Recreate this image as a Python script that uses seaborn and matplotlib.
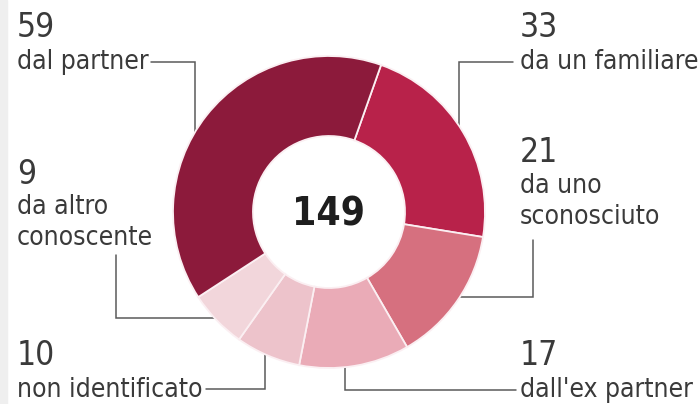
#!/usr/bin/env python3
"""
Donut chart: 149 femminicidi per autore
"""

import matplotlib
matplotlib.use('Agg')
import matplotlib.pyplot as plt
import seaborn as sns

# Data (clockwise from the top, starting with "da un familiare")
categories = ['da un familiare', 'da uno\nsconosciuto', "dall'ex partner",
              'non identificato', 'da altro\nconoscente', 'dal partner']
values = [33, 21, 17, 10, 9, 59]
colors = ['#B8224A', '#D6707F', '#EAABB7', '#EDC3CB', '#F2D6DB', '#8C1A3B']
total = sum(values)

sns.set_theme(style="white")
plt.rcParams['font.family'] = ['DejaVu Sans']
plt.rcParams['font.stretch'] = 'condensed'

W, H = 699, 404
fig = plt.figure(figsize=(W / 100, H / 100), dpi=100)
ax = fig.add_axes([0, 0, 1, 1])

def Y(y):
    # image rows -> data coordinates
    return H - y

TXT = '#3a3a3a'
LINE = '#5a5a5a'

# Leader lines (drawn under the ring)
leaders = {
    'dal partner': [(151, 62), (195, 62), (195, 145)],
    'da un familiare': [(513, 62), (459, 62), (459, 140)],
    'da uno\nsconosciuto': [(533, 240), (533, 297), (445, 297)],
    "dall'ex partner": [(516, 390), (345, 390), (345, 350)],
    'non identificato': [(206, 389), (265, 389), (265, 340)],
    'da altro\nconoscente': [(116, 255), (116, 318), (230, 318)],
}
for pts in leaders.values():
    ax.plot([p[0] for p in pts], [Y(p[1]) for p in pts], color=LINE, lw=1.1,
            zorder=0.5, solid_joinstyle='miter')

cx, cy, r_out, r_in = 329, 212, 156, 76
wedges, _ = ax.pie(values, colors=colors, startangle=70.5, counterclock=False,
                   center=(cx, Y(cy)), radius=r_out,
                   wedgeprops=dict(width=r_out - r_in, edgecolor='#FBEFF2', linewidth=1.3))
for w in wedges:
    w.set_zorder(1)

ax.text(cx - 1, Y(225), f'{total}', ha='center', va='baseline', fontsize=28,
        fontweight='bold', color='#1e1e1e')

# Labels: (x, number baseline, label first baseline)
label_pos = {
    'dal partner': (17, 37, 69),
    'da un familiare': (520, 37, 69),
    'da uno\nsconosciuto': (520, 162, 193),
    "dall'ex partner": (520, 365, 397),
    'non identificato': (17, 365, 397),
    'da altro\nconoscente': (17, 184, 214),
}
for cat, val in zip(categories, values):
    x, yn, yl = label_pos[cat]
    ax.text(x, Y(yn), str(val), ha='left', va='baseline', fontsize=24, color=TXT)
    for i, line in enumerate(cat.split('\n')):
        ax.text(x, Y(yl + 31 * i), line, ha='left', va='baseline', fontsize=19, color=TXT)

# faint grey strip at the left edge
ax.axvspan(0, 7, color='#EFEFEF', zorder=0)

ax.set_xlim(0, W)
ax.set_ylim(0, H)
ax.set_aspect('equal')
ax.axis('off')

plt.savefig('out.png', dpi=100, facecolor='white')
